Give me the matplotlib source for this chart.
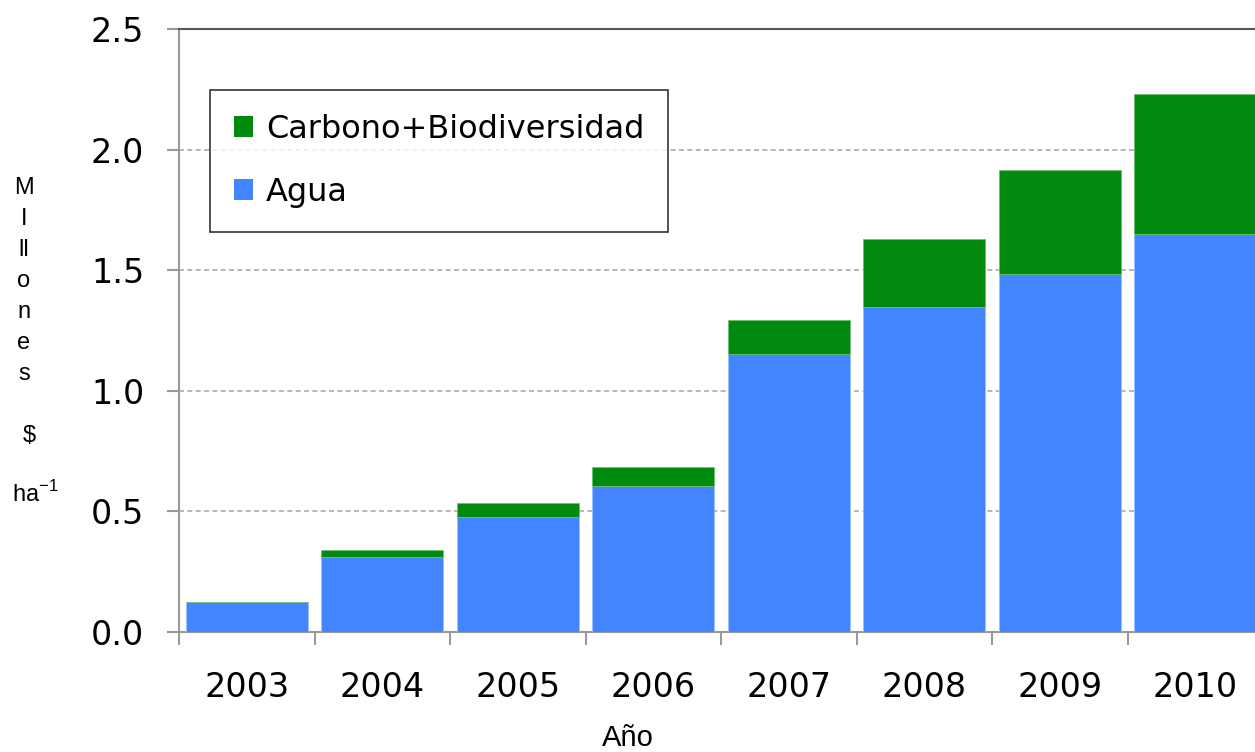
import numpy as np
import matplotlib
matplotlib.use("Agg")
import matplotlib.pyplot as plt
from matplotlib.patches import Patch

# datos
anios = ["2003", "2004", "2005", "2006", "2007", "2008", "2009", "2010"]
agua = [0.124, 0.311, 0.477, 0.605, 1.152, 1.347, 1.484, 1.650]
carbono_bio = [0.0, 0.029, 0.058, 0.079, 0.141, 0.282, 0.431, 0.580]

color_agua = "#4285ff"
color_carbono = "#008a0e"
fuente_num = "DejaVu Sans"

fig = plt.figure(figsize=(12.55, 7.52), dpi=100)
# el eje se sale un poco por la derecha, como en la imagen original
ax = fig.add_axes([179 / 1255, 1 - 632 / 752, 1084 / 1255, (632 - 29) / 752])

x = np.arange(len(anios))
ax.bar(x, agua, width=0.9, color=color_agua, edgecolor="#9cc0ff", linewidth=0.6, zorder=3)
ax.bar(x, carbono_bio, width=0.9, bottom=agua, color=color_carbono,
       edgecolor="#6fbf75", linewidth=0.6, zorder=3)

ax.set_xlim(-0.5, len(anios) - 0.5)
ax.set_ylim(0, 2.5)
ax.set_yticks([0, 0.5, 1.0, 1.5, 2.0, 2.5])
ax.set_yticklabels(["0.0", "0.5", "1.0", "1.5", "2.0", "2.5"], family=fuente_num, fontsize=24)

# ticks mayores en los bordes de las categorias, etiquetas centradas
ax.set_xticks(np.arange(len(anios) + 1) - 0.5)
ax.set_xticklabels([])
ax.set_xticks(x, minor=True)
ax.set_xticklabels(anios, minor=True, family=fuente_num, fontsize=24)
ax.tick_params(axis="x", which="minor", length=0, pad=28)
ax.tick_params(axis="x", which="major", length=9, color="#999999", width=1.5)
ax.tick_params(axis="y", length=9, color="#999999", width=1.5, pad=16)

ax.yaxis.grid(True, linestyle=(0, (3, 2)), color="#aaaaaa", linewidth=1.2, zorder=0)

ax.spines["right"].set_visible(False)
ax.spines["left"].set_color("#999999")
ax.spines["left"].set_linewidth(1.5)
ax.spines["bottom"].set_color("#999999")
ax.spines["bottom"].set_linewidth(1.5)
ax.spines["top"].set_color("#555555")
ax.spines["top"].set_linewidth(1.5)

# leyenda
handles = [Patch(facecolor=color_carbono, label="Carbono+Biodiversidad"),
           Patch(facecolor=color_agua, label="Agua")]
leg = ax.legend(handles=handles, loc="upper left", bbox_to_anchor=(0.0286, 0.899),
                borderaxespad=0, prop={"family": fuente_num, "size": 23},
                frameon=True, fancybox=False, edgecolor="black",
                handlelength=0.6, handleheight=0.6, handletextpad=0.4,
                labelspacing=1.0, borderpad=0.75)
leg.get_frame().set_linewidth(1.2)

# etiquetas de ejes
fig.text(628 / 1255, 1 - 738 / 752, "Año", ha="center", va="center",
         family="Liberation Sans", fontsize=21)
letras = ["M", "I", "ll", "o", "n", "e", "s"]
for i, letra in enumerate(letras):
    fig.text(24 / 1255, 1 - (188 + i * 31) / 752, letra, ha="center", va="center",
             family="Liberation Sans", fontsize=17)
fig.text(29 / 1255, 1 - 436 / 752, "$", ha="center", va="center",
         family="Liberation Sans", fontsize=17)
fig.text(35 / 1255, 1 - 494 / 752, r"ha$^{\mathregular{-1}}$", ha="center", va="center",
         family="Liberation Sans", fontsize=17)

fig.savefig("out.png", dpi=100)
